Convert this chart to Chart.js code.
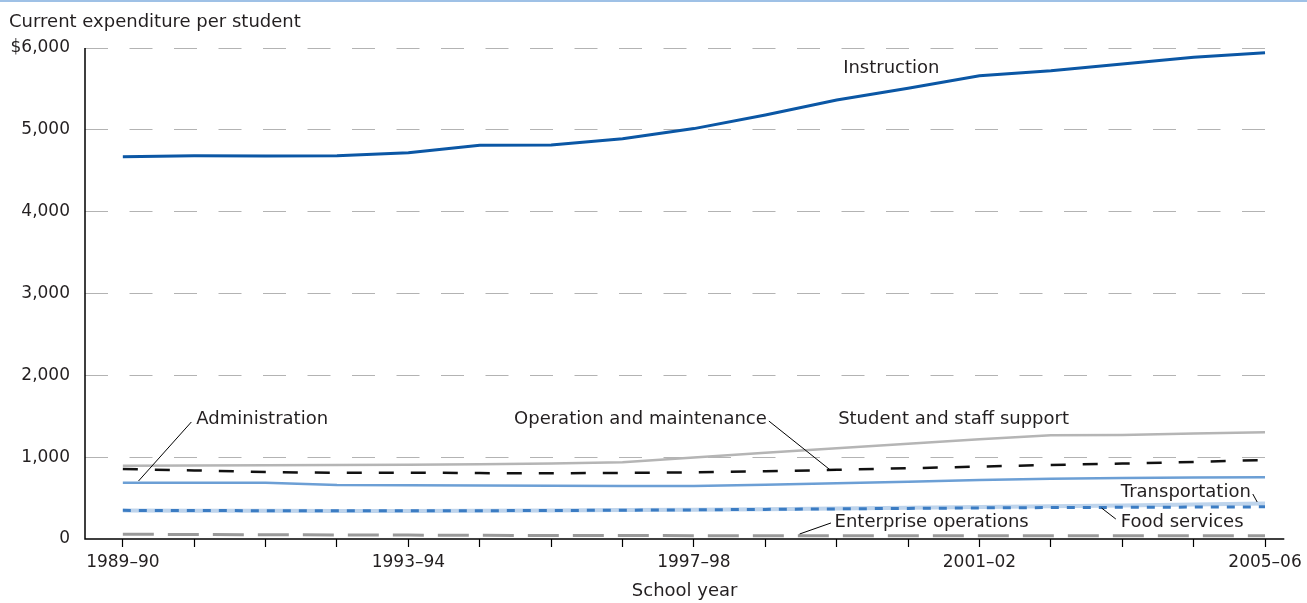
<!DOCTYPE html>
<html>
<head>
<meta charset="utf-8">
<title>Current expenditure per student</title>
<script src="https://cdn.jsdelivr.net/npm/chart.js@4.4.1/dist/chart.umd.min.js"></script>
<style>
    body { margin: 0; background: #fff; }
    #wrap { position: relative; width: 1307px; height: 603px; }
    #topline { position: absolute; left: 0; top: 0; width: 1307px; height: 2px; background: #9fc1e6; }
</style>
</head>
<body>
<div id="wrap">
    <canvas id="chart" width="1307" height="603"></canvas>
    <div id="topline"></div>
</div>
<script>
// Data (dollars per student)

const years = ['1989–90', '1990–91', '1991–92', '1992–93', '1993–94', '1994–95', '1995–96', '1996–97',
    '1997–98', '1998–99', '1999–2000', '2000–01', '2001–02', '2002–03', '2003–04', '2004–05', '2005–06'];
const xTickLabels = ['1989–90', '1993–94', '1997–98', '2001–02', '2005–06'];

const yTicks = [0, 1000, 2000, 3000, 4000, 5000, 6000];
const yTickLabels = ['0', '1,000', '2,000', '3,000', '4,000', '5,000', '$6,000'];

const instruction = [4672, 4684, 4680, 4684, 4721, 4811, 4815, 4892, 5015, 5181, 5365, 5508, 5662, 5723, 5805, 5887, 5943];
const studentSupport = [896, 898, 900, 903, 907, 912, 922, 937, 995, 1055, 1108, 1165, 1218, 1268, 1271, 1290, 1304];
const operation = [855, 838, 818, 808, 811, 805, 803, 808, 815, 828, 845, 865, 885, 905, 922, 942, 965];
const administration = [688, 688, 686, 660, 656, 655, 652, 648, 648, 662, 680, 700, 722, 735, 745, 752, 756];
const transportation = [348, 346, 344, 343, 343, 345, 348, 353, 358, 365, 372, 381, 392, 400, 410, 422, 434];
const foodServices = [350, 348, 346, 345, 345, 346, 348, 352, 356, 362, 368, 374, 380, 384, 387, 390, 393];
const enterprise = [58, 55, 52, 50, 48, 45, 43, 42, 41, 40, 40, 40, 40, 40, 40, 40, 40];

const FONT = 'DejaVu Sans';
const TEXT_COLOR = '#231f20';
const LABEL_SIZE = 18;
const TICK_SIZE = 17;

// Callout labels, anchored in data units (x = year index, y = dollars)
// a leader starting with 'end' begins right after the label text
const callouts = [
    { text: 'Instruction', x: 10.09, y: 5756 },
    { text: 'Administration', x: 1.03, y: 1466, leader: [[0.96, 1430], [0.22, 709]] },
    { text: 'Operation and maintenance', x: 5.48, y: 1466, leader: ['end', [9.91, 843], [9.99, 843]] },
    { text: 'Student and staff support', x: 10.02, y: 1466 },
    { text: 'Transportation', x: 13.98, y: 574, leader: ['end', [15.89, 452]] },
    { text: 'Food services', x: 13.98, y: 208, leader: [[13.91, 244], [13.71, 379]] },
    { text: 'Enterprise operations', x: 9.97, y: 208, leader: [[9.92, 196], [9.48, 61]] }
];

function toPoints(values) {
    return values.map((v, i) => ({ x: i, y: v }));
}

const decorations = {
    id: 'decorations',
    beforeDatasetsDraw(chart) {
        const { ctx, chartArea } = chart;
        ctx.save();
        ctx.strokeStyle = '#000';
        ctx.lineWidth = 1.5;
        ctx.beginPath();
        ctx.moveTo(chartArea.left, chartArea.top);
        ctx.lineTo(chartArea.left, chartArea.bottom);
        ctx.lineTo(chartArea.right, chartArea.bottom);
        ctx.stroke();
        ctx.restore();
    },
    afterDatasetsDraw(chart) {
        const { ctx, scales } = chart;
        const xs = scales.x;
        const ys = scales.y;
        ctx.save();
        ctx.font = `${LABEL_SIZE}px "${FONT}"`;
        ctx.fillStyle = TEXT_COLOR;
        ctx.textBaseline = 'middle';
        ctx.textAlign = 'left';

        callouts.forEach(c => {
            const tx = xs.getPixelForValue(c.x);
            const ty = ys.getPixelForValue(c.y);
            ctx.fillText(c.text, tx, ty);
            if (c.leader) {
                ctx.strokeStyle = '#000';
                ctx.lineWidth = 1;
                ctx.beginPath();
                c.leader.forEach((p, i) => {
                    let px, py;
                    if (p === 'end') {
                        px = tx + ctx.measureText(c.text).width + 2;
                        py = ty + 2;
                    } else {
                        px = xs.getPixelForValue(p[0]);
                        py = ys.getPixelForValue(p[1]);
                    }
                    if (i === 0) ctx.moveTo(px, py); else ctx.lineTo(px, py);
                });
                ctx.stroke();
            }
        });

        // Axis titles
        ctx.fillText('Current expenditure per student', 9, 22);
        ctx.textAlign = 'center';
        ctx.fillText('School year', (chart.chartArea.left + chart.chartArea.right) / 2, 591);
        ctx.restore();
    }
};

const datasets = [
    { label: 'Instruction', data: toPoints(instruction), borderColor: '#0b57a5', borderWidth: 3 },
    { label: 'Operation and maintenance', data: toPoints(operation), borderColor: '#111', borderWidth: 2.5, borderDash: [15, 17] },
    { label: 'Food services', data: toPoints(foodServices), borderColor: '#3b7cc3', borderWidth: 3, borderDash: [8, 8] },
    { label: 'Administration', data: toPoints(administration), borderColor: '#6c9fd5', borderWidth: 2.5 },
    { label: 'Student and staff support', data: toPoints(studentSupport), borderColor: '#b5b5b5', borderWidth: 2.5 },
    { label: 'Transportation', data: toPoints(transportation), borderColor: '#bed4ec', borderWidth: 4 },
    { label: 'Enterprise operations', data: toPoints(enterprise), borderColor: '#9a9a9a', borderWidth: 3, borderDash: [31, 14] }
];

new Chart(document.getElementById('chart'), {
    type: 'line',
    data: { datasets },
    options: {
        responsive: false,
        animation: false,
        devicePixelRatio: 1,
        layout: { padding: { top: 48, right: 17, left: 0, bottom: 0 } },
        elements: {
            point: { radius: 0, hoverRadius: 0 },
            line: { tension: 0, fill: false, borderCapStyle: 'butt' }
        },
        plugins: {
            legend: { display: false },
            tooltip: { enabled: false }
        },
        scales: {
            x: {
                type: 'linear',
                min: -0.53,
                max: 16.27,
                afterFit: (s) => { s.height = 64; },
                afterBuildTicks: (s) => { s.ticks = years.map((_, i) => ({ value: i })); },
                ticks: {
                    autoSkip: false,
                    maxRotation: 0,
                    padding: 5,
                    color: TEXT_COLOR,
                    font: { family: FONT, size: TICK_SIZE },
                    callback: (v) => xTickLabels.includes(years[v]) ? years[v] : ''
                },
                grid: { drawOnChartArea: false, drawTicks: true, tickLength: 8, tickColor: '#000', tickWidth: 1.2 },
                border: { display: false }
            },
            y: {
                min: 0,
                max: 6000,
                afterFit: (s) => { s.width = 85; },
                afterBuildTicks: (s) => { s.ticks = yTicks.map(v => ({ value: v })); },
                ticks: {
                    padding: 15,
                    color: TEXT_COLOR,
                    font: { family: FONT, size: TICK_SIZE },
                    callback: (v) => yTickLabels[yTicks.indexOf(v)]
                },
                grid: {
                    drawTicks: false,
                    lineWidth: 1,
                    color: (ctx) => (ctx.tick && ctx.tick.value === 0) ? 'rgba(0,0,0,0)' : '#b3b3b3'
                },
                border: { display: false, dash: [23, 21.5] }
            }
        }
    },
    plugins: [decorations]
});
</script>
</body>
</html>
